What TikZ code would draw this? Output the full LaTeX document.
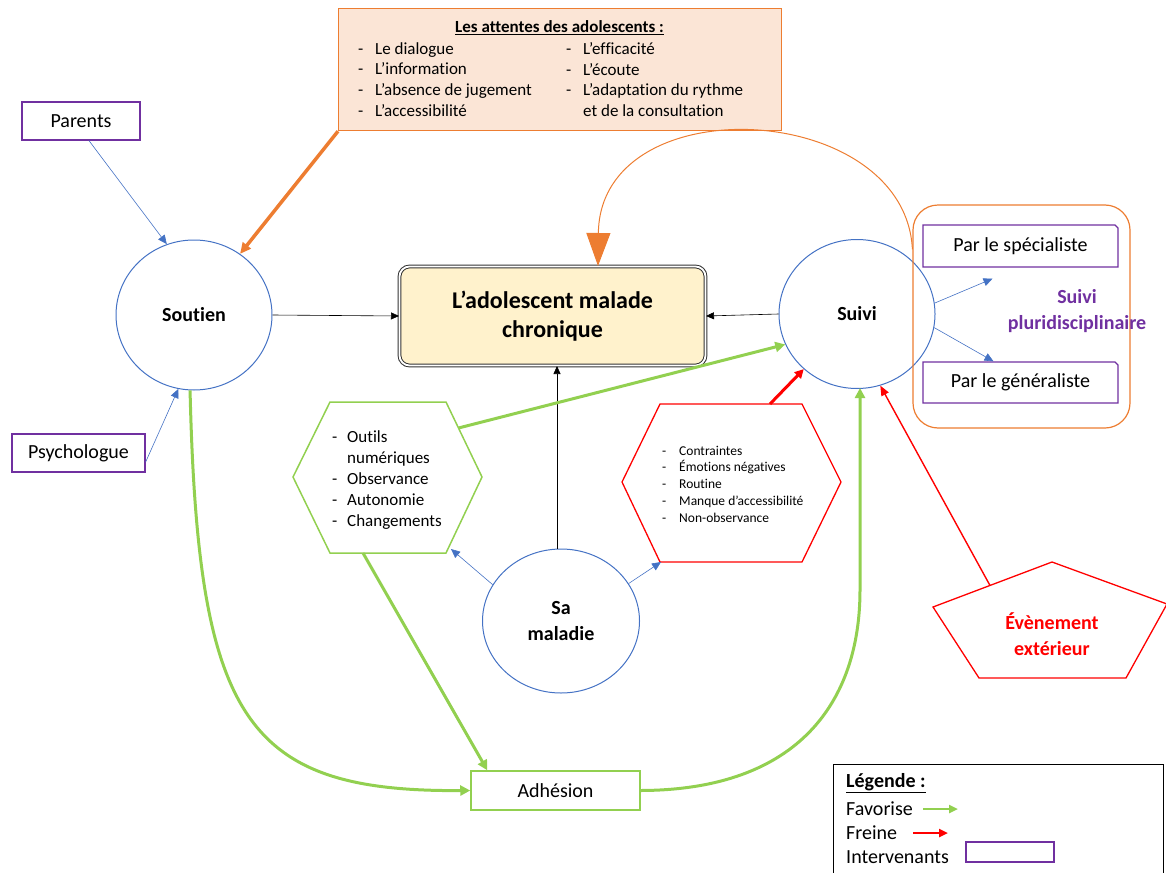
\documentclass[tikz,border=0pt]{standalone}
\usepackage{fontspec}
\setmainfont{Carlito}[Ligatures=NoCommon]
\usetikzlibrary{shapes.geometric,shapes.misc,arrows.meta,calc}
\definecolor{cgreen}{HTML}{92D050}
\definecolor{corange}{HTML}{ED7D31}
\definecolor{cblue}{HTML}{4472C4}
\definecolor{cpurple}{HTML}{7030A0}
\definecolor{cred}{HTML}{FF0000}
\definecolor{cpeach}{HTML}{FBE5D6}
\definecolor{cyellow}{HTML}{FFF2CC}
\newcommand{\fsBig}{\fontsize{20}{24}\selectfont}
\newcommand{\fsMid}{\fontsize{17}{20.8}\selectfont}
\newcommand{\fsSmall}{\fontsize{13.5}{16.8}\selectfont}
\newcommand{\dsh}[1]{\makebox[#1][l]{-}}
\tikzset{
  ibox/.style={draw=cpurple, line width=1.3pt, inner sep=0pt, font=\fsBig},
  iboxc/.style={ibox, chamfered rectangle, chamfered rectangle corners=north east,
    chamfered rectangle xsep=1.5pt, chamfered rectangle ysep=1.5pt},
  circ/.style={ellipse, draw=cblue, line width=1pt, align=center, inner sep=0pt,
    font=\bfseries\fontsize{20}{26}\selectfont},
  barrow/.style={draw=cblue, line width=0.6pt, -{Triangle[length=9pt,width=8pt]}},
  karrow/.style={draw=black, line width=0.6pt, -{Triangle[length=8pt,width=7pt]}},
  garrow/.style={draw=cgreen, line width=3pt, -{Triangle[length=10pt,width=10pt]}},
  rarrow/.style={draw=cred, line width=3pt, -{Triangle[length=9pt,width=9pt]}},
  rthin/.style={draw=cred, line width=1.4pt, -{Triangle[length=10pt,width=8pt]}},
  oarrow/.style={draw=corange, line width=3.5pt, -{Triangle[length=11pt,width=10pt]}},
  txt/.style={inner sep=0pt, align=left},
}
\begin{document}
\begin{tikzpicture}[x=1pt,y=-1pt]
\useasboundingbox (0,0) rectangle (1166,872);

% top box
\node[draw=corange, line width=1.2pt, fill=cpeach, minimum width=443pt, minimum height=122pt, anchor=north west] (attentes) at (338,8) {};
\node[txt, font=\bfseries\fsMid] (atttitle) at (559.5,28) {\underline{Les attentes des adolescents :}};
\node[txt, anchor=west, font=\fsMid] (attL) at (358,79.5) {\dsh{17pt}Le dialogue\\ \dsh{17pt}L’information\\ \dsh{17pt}L’absence de jugement\\ \dsh{17pt}L’accessibilité};
\node[txt, anchor=west, font=\fsMid] (attR) at (566,79.5) {\dsh{17pt}L’efficacité\\ \dsh{17pt}L’écoute\\ \dsh{17pt}L’adaptation du rythme\\ \hspace*{17pt}et de la consultation};

% intervenants left
\node[ibox, minimum width=118pt, minimum height=38pt] (parents) at (81,121) {Parents};
\node[ibox, minimum width=133pt, minimum height=38pt] (psych) at (78.5,453) {Psychologue};

% circles
\node[circ, minimum width=156pt, minimum height=150pt] (sout) at (194,315) {Soutien};
\node[circ, minimum width=156pt, minimum height=149pt] (suivi) at (857,314) {Suivi};
\node[circ, minimum width=157pt, minimum height=144pt] (mal) at (561,621) {Sa\\maladie};

% central node
\node[draw=black!80, double=white, double distance=1.8pt, line width=1pt, fill=cyellow,
  rounded corners=10pt, minimum width=306pt, minimum height=99pt, align=center, inner sep=0pt,
  font=\bfseries\fontsize{24}{29}\selectfont] (ado) at (552.5,316) {L’adolescent malade\\chronique};

% pluridisciplinary group
\node[draw=corange, line width=1.2pt, rounded corners=25pt, minimum width=217pt, minimum height=223pt] (pluri) at (1021.5,316.5) {};
\node[iboxc, minimum width=195pt, minimum height=42pt] (spec) at (1020.5,246) {Par le spécialiste};
\node[iboxc, minimum width=195pt, minimum height=41pt] (gen) at (1020.5,382.5) {Par le généraliste};
\node[txt, align=center, text=cpurple, font=\bfseries\fontsize{20}{26}\selectfont] (pluritxt) at (1077,311) {Suivi\\pluridisciplinaire};

% green hexagon
\draw[cgreen, line width=1.5pt] (293,477) -- (330,402) -- (446,402) -- (482,477) -- (446,553) -- (330,553) -- cycle;
\node[txt, anchor=west, font=\fsMid] (ghtxt) at (332,480) {\dsh{15pt}Outils\\ \hspace*{15pt}numériques\\ \dsh{15pt}Observance\\ \dsh{15pt}Autonomie\\ \dsh{15pt}Changements};
\coordinate (ghUR) at (458.5,428);
\coordinate (ghB) at (363,553);
\coordinate (ghBR) at (451,549);

% red hexagon
\draw[cred, line width=1.3pt] (622,482) -- (660,404) -- (802,404) -- (841,482) -- (802,562) -- (660,562) -- cycle;
\node[txt, anchor=west, font=\fsSmall] (rhtxt) at (662,484) {\dsh{17pt}Contraintes\\ \dsh{17pt}Émotions négatives\\ \dsh{17pt}Routine\\ \dsh{17pt}Manque d’accessibilité\\ \dsh{17pt}Non-observance};
\coordinate (rhT) at (770,404);
\coordinate (rhBL) at (661,562);

% pentagon
\draw[cred, line width=1.3pt] (1052,562) -- (1167,604) -- (1126,678) -- (979,678) -- (933,607) -- cycle;
\node[txt, align=center, text=cred, font=\bfseries\fontsize{20}{26}\selectfont] (evt) at (1052,634) {Évènement\\extérieur};
\coordinate (peUL) at (990,585.5);

% adhesion
\node[draw=cgreen, line width=1.5pt, minimum width=169pt, minimum height=39pt, inner sep=0pt, font=\fsBig] (adh) at (555.5,790.5) {Adhésion};

% connectors
\draw[barrow] ([xshift=8pt]parents.south) -- (sout.111);
\draw[barrow] ([yshift=-9pt]psych.east) -- (sout.258);
\draw[oarrow] (attentes.south west) -- (sout.53);
\draw[karrow] (sout.east) -- (ado.west);
\draw[karrow] (suivi.west) -- (ado.east);
\draw[karrow] ([xshift=-4pt]mal.north) -- ([xshift=-4pt]mal.north |- ado.south);
\draw[draw=corange, line width=1pt, -{Triangle[length=33pt,width=24pt]}]
  ([yshift=-45pt]pluri.north west) .. controls (905,100) and (600,85) .. ([xshift=45.5pt]ado.north);
\draw[barrow] (suivi.8) -- ($(spec.south)+(-28,11)$);
\draw[barrow] (suivi.-10) -- ([xshift=-27pt]gen.north);
\draw[garrow] (ghUR) -- (suivi.203);
\draw[rarrow] (rhT) -- (suivi.226);
\draw[rthin] (peUL) -- (suivi.288);
\draw[barrow] (mal.152) -- (ghBR);
\draw[barrow] (mal.29) -- (rhBL);
\draw[garrow] (ghB) -- ([xshift=17pt]adh.north west);
\draw[garrow] (sout.267) .. controls (198,720) and (245,792) .. (adh.west);
\draw[garrow] (adh.east) .. controls (800,790) and (860,700) .. (860,590) -- (860,388);

% legend
\node[draw=black, line width=1pt, minimum width=330pt, minimum height=112pt, anchor=north west] (leg) at (833,764) {};
\node[txt, anchor=west, font=\bfseries\fsBig] (legt) at (846,783) {\underline{Légende :}};
\node[txt, anchor=west, font=\fsBig] (legf) at (846,809) {Favorise};
\node[txt, anchor=west, font=\fsBig] (legr) at (846,833) {Freine};
\node[txt, anchor=west, font=\fsBig] (legi) at (846,857) {Intervenants};
\coordinate (lga) at (923,809);
\coordinate (lgb) at (958,809);
\coordinate (lra) at (913,833);
\coordinate (lrb) at (948,833);
\draw[draw=cgreen, line width=2.5pt, -{Triangle[length=9pt,width=8pt]}] (lga) -- (lgb);
\draw[draw=cred, line width=2.5pt, -{Triangle[length=9pt,width=8pt]}] (lra) -- (lrb);
\node[iboxc, line width=2pt, minimum width=88pt, minimum height=20pt] (legbox) at (1010,852) {};
\end{tikzpicture}
\end{document}
